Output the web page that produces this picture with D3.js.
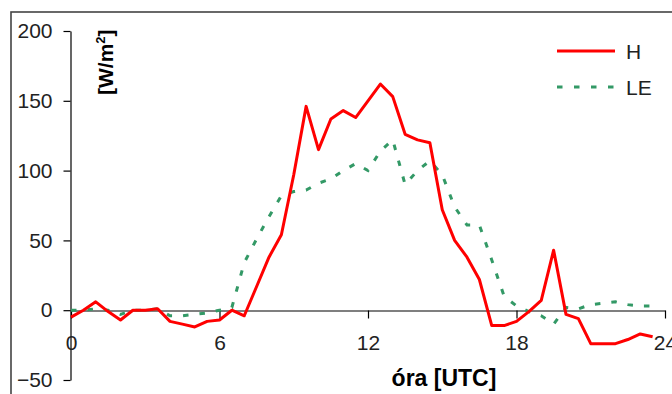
<!DOCTYPE html>
<html>
<head>
<meta charset="utf-8">
<script src="https://cdn.jsdelivr.net/npm/d3@7"></script>
<style>
  html, body { margin: 0; padding: 0; background: #fff; }
  svg { display: block; }
  text { font-family: "Liberation Sans", Arial, sans-serif; }
</style>
</head>
<body>
<svg id="chart" width="672" height="394"></svg>
<script>
// ---- data ----
const hours = [0, 0.5, 1, 1.5, 2, 2.5, 3, 3.5, 4, 4.5, 5, 5.5, 6, 6.5, 7, 7.5,
  8, 8.5, 9, 9.5, 10, 10.5, 11, 11.5, 12, 12.5, 13, 13.5, 14, 14.5, 15, 15.5,
  16, 16.5, 17, 17.5, 18, 18.5, 19, 19.5, 20, 20.5, 21, 21.5, 22, 22.5, 23, 23.5];
const seriesH = [-5, 0, 6, -1, -7, 0, 0, 1, -8, -10, -12, -8, -7, 0, -4, 17,
  38, 54, 97, 146, 115, 137, 143, 138, 150, 162, 153, 126, 122, 120, 72, 50,
  38, 22, -11, -11, -8, -1, 7, 43, -3, -6, -24, -24, -24, -21, -17, -19];
const seriesLE = [0, 0, 1, 0, -3, 0, 0, 1, -4, -4, -3, -2, 0, 2, 34, 51,
  67, 82, 85, 86, 91, 94, 100, 105, 100, 114, 122, 90, 100, 107, 97, 74,
  61, 61, 36, 10, 3, -1, -4, -10, 2, 1, 4, 5, 6, 4, 3, 3];
const xTicks = [0, 6, 12, 18, 24];
const yTicks = [-50, 0, 50, 100, 150, 200];
const seriesNames = ["H", "LE"];
const xTitle = "óra [UTC]";

// ---- drawing ----
const svg = d3.select("#chart");
const x = d3.scaleLinear().domain([0, 24]).range([71, 665]);
const y = d3.scaleLinear().domain([-50, 200]).range([380, 31]);

// outer frame
svg.append("rect")
  .attr("x", 11).attr("y", 12).attr("width", 700).attr("height", 420)
  .attr("fill", "none").attr("stroke", "#444").attr("stroke-width", 1.6);

// y axis
const yAxis = svg.append("g")
  .attr("transform", "translate(70.5,0)")
  .call(d3.axisLeft(y).tickValues(yTicks).tickSize(7).tickSizeOuter(0).tickPadding(11));
yAxis.selectAll("text").attr("font-size", 21).attr("fill", "#222")
  .attr("font-family", "'Liberation Sans', Arial, sans-serif");

// x axis at y=0
const xAxis = svg.append("g")
  .attr("transform", `translate(0,${Math.round(y(0)) + 0.5})`)
  .call(d3.axisBottom(x).tickValues(xTicks).tickSize(8).tickSizeOuter(0).tickPadding(17)
    .tickFormat(d3.format("d")));
xAxis.selectAll("text").attr("font-size", 21).attr("fill", "#222")
  .attr("font-family", "'Liberation Sans', Arial, sans-serif");
svg.selectAll(".domain, .tick line").attr("stroke", "#000").attr("stroke-width", 1.2);

// lines
const line = d3.line().x((d, i) => x(hours[i])).y(d => y(d));
svg.append("path").datum(seriesLE)
  .attr("d", line).attr("fill", "none")
  .attr("stroke", "#339966").attr("stroke-width", 3)
  .attr("stroke-dasharray", "5.5,11");
svg.append("path").datum(seriesH)
  .attr("d", line).attr("fill", "none")
  .attr("stroke", "#ff0000").attr("stroke-width", 3)
  .attr("stroke-linejoin", "round");

// y title
const yt = svg.append("text")
  .attr("transform", "translate(113,95) rotate(-90)")
  .attr("font-size", 21).attr("font-weight", "bold").attr("fill", "#000");
yt.append("tspan").text("[W/m");
yt.append("tspan").text("2").attr("font-size", 13).attr("dy", -8);
yt.append("tspan").text("]").attr("dy", 8);

// x title
svg.append("text")
  .attr("x", 444).attr("y", 386)
  .attr("text-anchor", "middle")
  .attr("font-size", 23).attr("font-weight", "bold").attr("fill", "#000")
  .text(xTitle);

// legend
const legendY = [51, 87];
svg.append("line").attr("x1", 557).attr("x2", 615).attr("y1", legendY[0]).attr("y2", legendY[0])
  .attr("stroke", "#ff0000").attr("stroke-width", 3);
svg.append("line").attr("x1", 557).attr("x2", 615).attr("y1", legendY[1]).attr("y2", legendY[1])
  .attr("stroke", "#339966").attr("stroke-width", 3).attr("stroke-dasharray", "5.5,11.5");
seriesNames.forEach((n, i) => {
  svg.append("text").attr("x", 626).attr("y", legendY[i] + 7.5)
    .attr("font-size", 21).attr("fill", "#222").text(n);
});
</script>
</body>
</html>
